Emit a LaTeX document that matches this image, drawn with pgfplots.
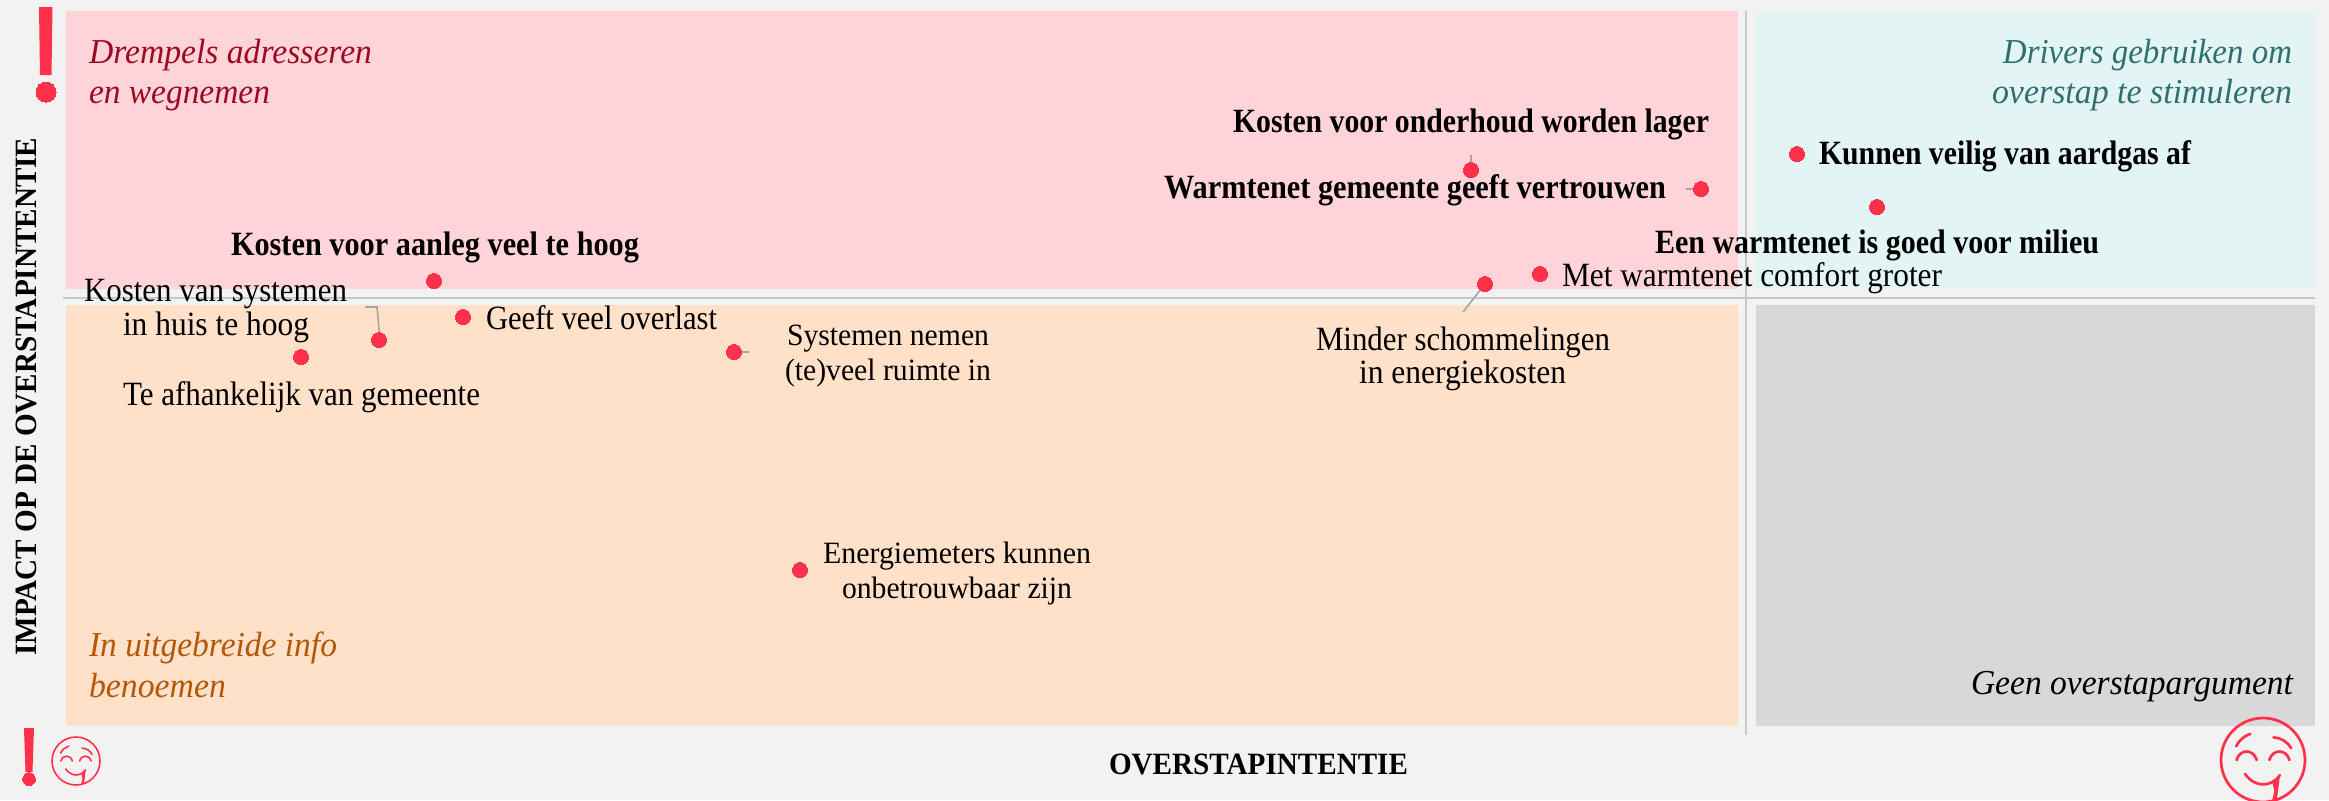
\documentclass[border=0pt]{standalone}
\usepackage{fontspec}
\usepackage{graphicx}
\usepackage{pgfplots}
\usepackage{pgfplotstable}
\pgfplotsset{compat=1.18}
\setmainfont{Liberation Serif}
\definecolor{bg}{HTML}{F2F2F2}
\definecolor{qpink}{HTML}{FFD4D9}
\definecolor{qpeach}{HTML}{FFE0C9}
\definecolor{qteal}{HTML}{E3F4F4}
\definecolor{qgray}{HTML}{D8D8D8}
\definecolor{dotred}{HTML}{FF304A}
\definecolor{tred}{HTML}{9B0A22}
\definecolor{torange}{HTML}{B35806}
\definecolor{tteal}{HTML}{2F6F6F}
\definecolor{lead}{HTML}{A6A6A6}
\definecolor{rule}{HTML}{C8C8C8}
% x (px), baseline y (px), width (px), anchor, font size (pt), text options+text
\newcommand{\T}[6]{\node[anchor=base #4,inner sep=0pt,outer sep=0pt] at (axis cs:#1,#2)
  {\resizebox{\dimexpr #3pt/2\relax}{\height}{\fontsize{#5}{#5}\selectfont #6}};}
% smiley: centre x, centre y (pt from lower left), radius (pt), line width (pt)
\newcommand{\Smiley}[4]{%
\begin{scope}[shift={(#1pt,#2pt)},x=#3pt,y=#3pt,draw=dotred,line width=#4pt,line cap=round]
  \draw (0,0) circle (#3pt);
  \draw (-.63,0) .. controls (-.55,.27) and (-.23,.27) .. (-.15,0);
  \draw (.15,0) .. controls (.23,.27) and (.55,.27) .. (.63,0);
  \draw (-.64,.33) .. controls (-.56,.48) and (-.44,.58) .. (-.30,.62);
  \draw (.25,.54) .. controls (.42,.53) and (.58,.44) .. (.67,.28);
  \draw (-.43,-.33) .. controls (-.2,-.66) and (.2,-.66) .. (.40,-.36);
  \fill[dotred] (.22,-.52) -- (.40,-.40) -- (.33,-.95) -- (.22,-.95) -- (.27,-.75) -- cycle;
\end{scope}}
\pgfplotstableread{
x y
434 281
463 317
379 340
301 357
734 352
800 570
1471 170
1701 189
1797 154
1877 207
1540 274
1485 284
}\points
\begin{document}
\begin{tikzpicture}
\path[use as bounding box] (0,0) rectangle (1164.5pt,400pt);
\clip (0,0) rectangle (1164.5pt,400pt);
\begin{axis}[at={(0,0)},anchor=south west,scale only axis,width=1164.5pt,height=400pt,
  xmin=0,xmax=2329,ymin=0,ymax=800,y dir=reverse,hide axis,clip=false]
\addplot[fill=bg,draw=none,mark=none] coordinates {(0,0)(2329,0)(2329,800)(0,800)} -- cycle;
\addplot[fill=qpink,draw=none,mark=none] coordinates {(66,11)(1738,11)(1738,289)(66,289)} -- cycle;
\addplot[fill=qteal,draw=none,mark=none] coordinates {(1756,11)(2315,11)(2315,289)(1756,289)} -- cycle;
\addplot[fill=qpeach,draw=none,mark=none] coordinates {(66,305)(1738,305)(1738,726)(66,726)} -- cycle;
\addplot[fill=qgray,draw=none,mark=none] coordinates {(1756,305)(2315,305)(2315,726)(1756,726)} -- cycle;
\addplot[rule,line width=1.4pt,mark=none] coordinates {(63,298)(2315,298)};
\addplot[rule,line width=0.8pt,mark=none] coordinates {(1746,11)(1746,735)};
% points
\addplot[only marks,mark=*,mark size=3.75pt,color=dotred,mark options={fill=dotred,draw=dotred,line width=0pt}] table[x=x,y=y] {\points};
% leader lines
\addplot[lead,line width=0.8pt,mark=none] coordinates {(365,307)(377,307)(380,340)};
\addplot[lead,line width=0.8pt,mark=none] coordinates {(735,352)(749,352)};
\addplot[lead,line width=0.8pt,mark=none] coordinates {(1471,155)(1471,170)};
\addplot[lead,line width=0.8pt,mark=none] coordinates {(1686,189)(1701,189)};
\addplot[lead,line width=0.8pt,mark=none] coordinates {(1463,312)(1485,284)};
% exclamation marks
\addplot[fill=dotred,draw=none,mark=none] coordinates {(39,7)(52.5,7)(51.5,75)(40,75)} -- cycle;
\addplot[only marks,mark=*,mark size=5pt,color=dotred,mark options={fill=dotred,draw=dotred,line width=0pt}] coordinates {(46,92)};
\addplot[fill=dotred,draw=none,mark=none] coordinates {(24,728)(34,728)(32.5,772)(25.5,772)} -- cycle;
\addplot[only marks,mark=*,mark size=3.2pt,color=dotred,mark options={fill=dotred,draw=dotred,line width=0pt}] coordinates {(29,779)};
% quadrant titles
\T{89}{63}{283}{west}{17.5}{\itshape\color{tred}Drempels adresseren}
\T{89}{103}{181}{west}{17.5}{\itshape\color{tred}en wegnemen}
\T{2292}{63}{289}{east}{17.5}{\itshape\color{tteal}Drivers gebruiken om}
\T{2292}{103}{300}{east}{17.5}{\itshape\color{tteal}overstap te stimuleren}
\T{89}{656}{248}{west}{17.5}{\itshape\color{torange}In uitgebreide info}
\T{89}{697}{137}{west}{17.5}{\itshape\color{torange}benoemen}
\T{2293}{694}{322}{east}{17.5}{\itshape Geen overstapargument}
% point labels
\T{231}{255.5}{408}{west}{17}{\bfseries Kosten voor aanleg veel te hoog}
\T{84}{301}{263}{west}{17}{Kosten van systemen}
\T{123}{335.5}{186}{west}{17}{in huis te hoog}
\T{486}{329.5}{231}{west}{17}{Geeft veel overlast}
\T{123}{405.5}{357}{west}{17}{Te afhankelijk van gemeente}
\T{787}{345}{202}{west}{15.5}{Systemen nemen}
\T{785}{380}{206}{west}{15.5}{(te)veel ruimte in}
\T{823}{563}{268}{west}{15.5}{Energiemeters kunnen}
\T{842}{598}{230}{west}{15.5}{onbetrouwbaar zijn}
\T{1233}{132.5}{476}{west}{17}{\bfseries Kosten voor onderhoud worden lager}
\T{1164}{198}{502}{west}{17}{\bfseries Warmtenet gemeente geeft vertrouwen}
\T{1819}{164.5}{372}{west}{17}{\bfseries Kunnen veilig van aardgas af}
\T{1655}{253.5}{444}{west}{17}{\bfseries Een warmtenet is goed voor milieu}
\T{1562}{286.5}{380}{west}{17}{Met warmtenet comfort groter}
\T{1316}{350}{294}{west}{17}{Minder schommelingen}
\T{1359}{383}{207}{west}{17}{in energiekosten}
% axis titles
\T{1109}{774}{299}{west}{15.5}{\bfseries OVERSTAPINTENTIE}
\node[rotate=90,anchor=base west,inner sep=0pt] at (axis cs:36,656)
  {\resizebox{259pt}{\height}{\fontsize{15.5}{15.5}\selectfont\bfseries IMPACT OP DE OVERSTAPINTENTIE}};
\end{axis}
% smileys
\Smiley{38}{19.5}{12}{0.8}
\Smiley{1131.5}{20}{21}{1.35}
\end{tikzpicture}
\end{document}
